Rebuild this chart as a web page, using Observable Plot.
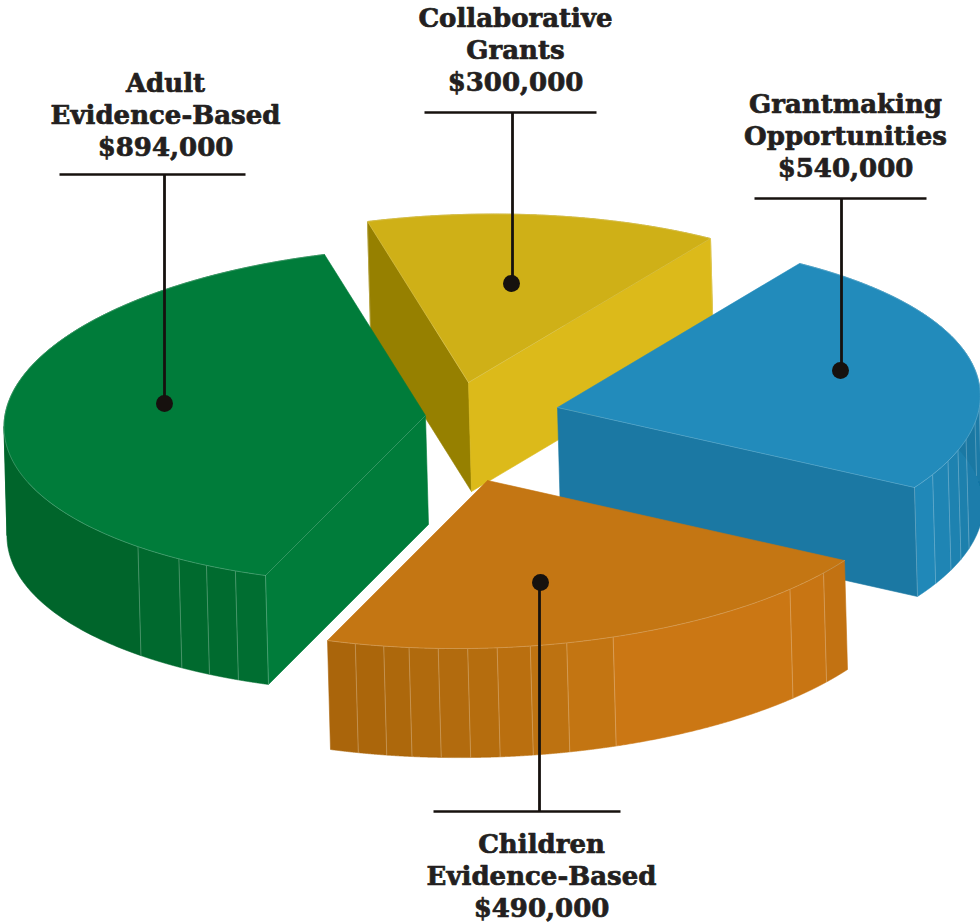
<!DOCTYPE html>
<html>
<head>
<meta charset="utf-8">
<script src="https://cdn.jsdelivr.net/npm/d3@7"></script>
<script src="https://cdn.jsdelivr.net/npm/@observablehq/plot@0.6"></script>
<style>html,body{margin:0;padding:0;background:#fff}svg{display:block}</style>
</head>
<body>
<div id="chart"></div>
<script>
// Slices, clockwise on screen beginning at the top-left cut
const categories = ["Collaborative\nGrants", "Grantmaking\nOpportunities", "Children\nEvidence-Based", "Adult\nEvidence-Based"];
const values = [300000, 540000, 490000, 894000];
const topColors = ["#cfb017", "#228bbb", "#c47613", "#007c3a"];
// Position of each slice's inner corner (pixels of the reference)
const apexX = [468, 557, 487, 425];
const apexY = [382, 407, 480, 415];
// Rim direction of the four cuts relative to the inner corner
const cutDX = [-101, 242, 357, -160];
const cutDY = [-161, -144, 80, 160];
// Small horizontal correction of a slice's rim at mid-arc
const bulgeX = [0, 0, 0, 7];
const depthX = 3, depthY = 109;
// Radial walls
const wallStartColor = ["#968000", null, null, "#007c3a"];
const wallEndColor = ["#dcba1a", "#1b78a3", null, null];
// Rim shading: facet edges (x) and fills between them
const rimEdges = [
  [],
  [933, 947, 958, 966, 973, 978],
  [354, 382, 410, 439, 468, 498, 530, 566, 611, 790, 822],
  [139, 176, 208, 237]
];
const rimColors = [
  ["#b09400"],
  ["#2088b8", "#1f85b4", "#1e82b0", "#1d80ad", "#1c7dab", "#1b7aa6", "#1a78a3"],
  ["#aa650b", "#ab660b", "#ad680c", "#b06a0d", "#b26b0e", "#b56d0e", "#ba6f0f", "#bd7211", "#c37512", "#cb7714", "#c87513", "#c27212"],
  ["#00652b", "#00692e", "#006a2e", "#006b2f", "#006e31"]
];
// Annotations
const dotX = [511, 840, 540, 164];
const dotY = [283, 370, 582, 403];
const leaderX = [512, 841, 539, 164];
const barY = [112, 198, 811, 174];
const barX1 = [424, 754, 433, 59];
const barX2 = [596, 926, 620, 245];
const labelX = [515, 845, 541, 165];
const labelY = [48, 134, 874, 113];
const INK = "#16110e";

// Circle -> picture homography fitted so the four cuts land where they are seen.
const total = d3.sum(values);
const cuts = [0];
values.forEach(v => cuts.push(cuts[cuts.length - 1] + v / total * 2 * Math.PI));
function solve(A, b) {
  const n = b.length, M = A.map((r, i) => [...r, b[i]]);
  for (let i = 0; i < n; i++) {
    let p = i;
    for (let r = i + 1; r < n; r++) if (Math.abs(M[r][i]) > Math.abs(M[p][i])) p = r;
    [M[i], M[p]] = [M[p], M[i]];
    for (let r = 0; r < n; r++) if (r !== i) {
      const f = M[r][i] / M[i][i];
      for (let c = i; c <= n; c++) M[r][c] -= f * M[i][c];
    }
  }
  return M.map((r, i) => r[n] / r[i]);
}
const A = [], B = [];
for (let i = 0; i < 4; i++) {
  const u = Math.cos(cuts[i]), v = Math.sin(cuts[i]), X = cutDX[i], Y = cutDY[i];
  A.push([u, v, 1, 0, 0, 0, -u * X, -v * X]); B.push(X);
  A.push([0, 0, 0, u, v, 1, -u * Y, -v * Y]); B.push(Y);
}
const h = solve(A, B);
function rim(t) {
  const u = Math.cos(t), v = Math.sin(t), w = h[6] * u + h[7] * v + 1;
  return [(h[0] * u + h[1] * v + h[2]) / w, (h[3] * u + h[4] * v + h[5]) / w];
}
const STEPS = 160;
function rimPoint(i, t) {
  const p = rim(t), frac = (t - cuts[i]) / (cuts[i + 1] - cuts[i]);
  return {x: apexX[i] + p[0] + bulgeX[i] * Math.sin(Math.PI * frac), y: apexY[i] + p[1], t};
}
function arc(i, a = cuts[i], b = cuts[i + 1]) {
  return d3.range(STEPS + 1).map(k => rimPoint(i, a + (b - a) * k / STEPS));
}
const down = p => ({x: p.x + depthX, y: p.y + depthY});
const apex = i => ({x: apexX[i], y: apexY[i]});
// A ribbon folds where the rim turns back in x; cut it there so it fills solidly.
function monotone(pts) {
  const runs = [[pts[0]]];
  let dir = 0;
  for (let k = 1; k < pts.length; k++) {
    const d = Math.sign(pts[k].x - pts[k - 1].x) || dir;
    if (dir && d !== dir) runs.push([pts[k - 1]]);
    dir = d;
    runs[runs.length - 1].push(pts[k]);
  }
  return runs;
}
function facetAngles(i) {
  // angle on the visible (front) part of the arc for each facet edge
  const pts = arc(i);
  return rimEdges[i].map(x => {
    let best = null, bd = 1e9;
    for (const p of pts) {
      const front = i === 1 ? p.t > (cuts[1] + cuts[2]) / 2 : i === 3 ? p.t < (cuts[3] + cuts[4]) / 2 : true;
      if (front && Math.abs(p.x - x) < bd) { bd = Math.abs(p.x - x); best = p.t; }
    }
    return best;
  });
}
const polyMark = (pts, fill) => Plot.line([...pts, pts[0]], {x: "x", y: "y", fill, stroke: fill, strokeWidth: 0.6});
const edgeMark = (pts, o = 0.35) => Plot.line(pts, {x: "x", y: "y", stroke: "#fff", strokeOpacity: o, strokeWidth: 0.7});

const marks = [];
for (const i of [0, 1, 3, 2]) {
  const angles = facetAngles(i);
  const sorted = [...angles].sort((a, b) => a - b);
  // facets run with x, which runs against t on the front of the pie
  const increasing = angles.length > 1 && angles[1] > angles[0];
  const bounds = increasing ? [cuts[i], ...sorted, cuts[i + 1]] : [cuts[i + 1], ...sorted.reverse(), cuts[i]];
  for (let f = 0; f < bounds.length - 1; f++) {
    for (const top of monotone(arc(i, bounds[f], bounds[f + 1]))) {
      marks.push(polyMark([...top, ...[...top].reverse().map(down)], rimColors[i][f % rimColors[i].length]));
    }
  }
  bounds.slice(1, -1).forEach(t => {
    const p = rimPoint(i, t);
    marks.push(edgeMark([p, down(p)]));
  });
  const outline = arc(i);
  [[wallStartColor[i], outline[0]], [wallEndColor[i], outline[STEPS]]].forEach(([color, r]) => {
    if (!color) return;
    marks.push(polyMark([apex(i), r, down(r), down(apex(i))], color));
    marks.push(edgeMark([r, down(r)]));
  });
  marks.push(polyMark([apex(i), ...outline], topColors[i]));
  marks.push(edgeMark(outline, 0.3));
  [[wallStartColor[i], outline[0]], [wallEndColor[i], outline[STEPS]]].forEach(([color, r]) => {
    if (color) marks.push(edgeMark([apex(i), r], 0.25));
  });
}

const idx = d3.range(4);
const leaders = idx.map(i => ({x1: leaderX[i], y1: dotY[i], x2: leaderX[i], y2: barY[i]}));
const bars = idx.map(i => ({x1: barX1[i], x2: barX2[i], y: barY[i]}));
const labels = idx.map(i => ({x: labelX[i], y: labelY[i], text: `${categories[i]}\n$${d3.format(",")(values[i])}`}));

const plot = Plot.plot({
  width: 980, height: 924, margin: 0,
  x: {domain: [0, 980], range: [0, 980], axis: null},
  y: {domain: [0, 924], range: [0, 924], axis: null},
  style: {background: "#fff"},
  marks: [
    ...marks,
    Plot.link(leaders, {x1: "x1", y1: "y1", x2: "x2", y2: "y2", stroke: INK, strokeWidth: 2.8}),
    Plot.link(bars, {x1: "x1", x2: "x2", y1: "y", y2: "y", stroke: INK, strokeWidth: 2.4}),
    Plot.dot(idx, {x: i => dotX[i], y: i => dotY[i], r: 8.5, fill: INK, stroke: "none"}),
    Plot.text(labels, {x: "x", y: "y", text: "text", lineAnchor: "middle", lineHeight: 32 / 26,
      fontFamily: "'DejaVu Serif'", fontWeight: "bold", fontSize: 26, fill: "#231f20", stroke: "#231f20", strokeWidth: 0.7})
  ]
});
document.getElementById("chart").append(plot);
</script>
</body>
</html>
